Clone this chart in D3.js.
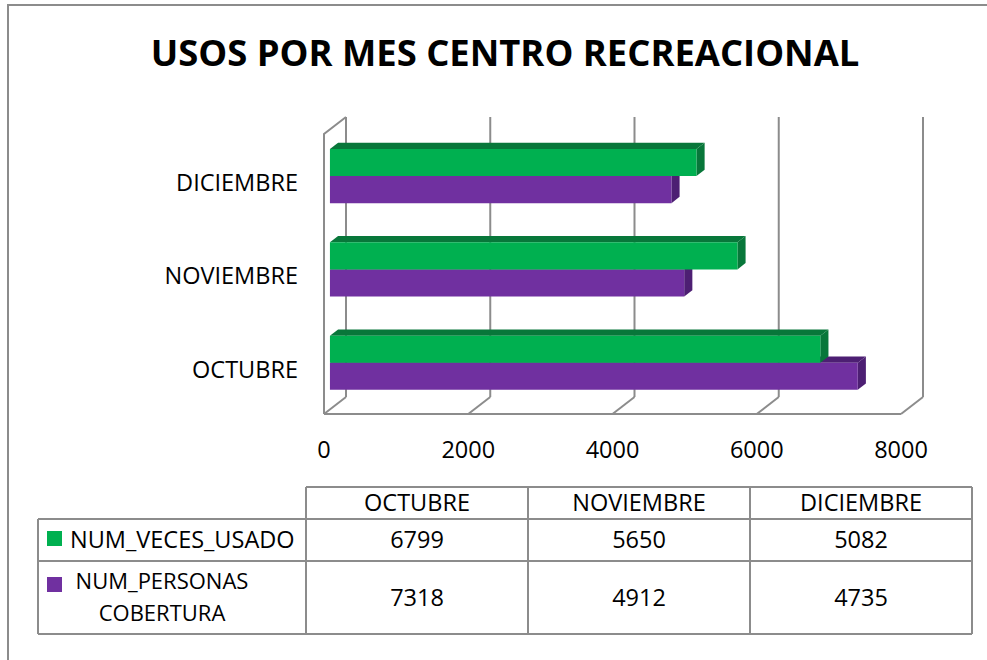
<!DOCTYPE html>
<html>
<head>
<meta charset="utf-8">
<script src="https://cdn.jsdelivr.net/npm/d3@7"></script>
<style>
  body { margin: 0; background: #fff; }
  svg { display: block; font-family: "Open Sans", sans-serif; }
</style>
</head>
<body>
<svg width="987" height="660"></svg>
<script>
// data
const months = ["OCTUBRE", "NOVIEMBRE", "DICIEMBRE"];
const vecesUsado = [6799, 5650, 5082];
const personasCobertura = [7318, 4912, 4735];
const seriesNames = ["NUM_VECES_USADO", "NUM_PERSONAS COBERTURA"];
const xTicks = [0, 2000, 4000, 6000, 8000];

const svg = d3.select("svg");
const grid = "#8c8c8c";
const fs = "23.5px";

// outer frame (right/bottom edges fall outside the picture)
svg.append("rect")
    .attr("x", 8).attr("y", 5)
    .attr("width", 1000).attr("height", 700)
    .attr("fill", "none").attr("stroke", grid).attr("stroke-width", 2);

svg.append("text")
    .attr("x", 505).attr("y", 66)
    .attr("text-anchor", "middle")
    .style("font-weight", "bold").style("font-size", "36.4px")
    .text("USOS POR MES CENTRO RECREACIONAL");

// 3d box: back wall scales, depth vector goes to the front
const xScale = d3.scaleLinear().domain([0, 8000]).range([346, 923]);
const yScale = d3.scaleBand()
    .domain(months.slice().reverse())
    .range([117, 397])
    .paddingInner(0.42).paddingOuter(0.21);
const sub = d3.scaleBand().domain(seriesNames).range([0, yScale.bandwidth()]);
const depth = { dx: -22, dy: 17 };
const P = (x, y, t) => [x + depth.dx * t, y + depth.dy * t];
const top0 = yScale.range()[0], bot0 = yScale.range()[1];

const walls = svg.append("g").attr("fill", "none").attr("stroke", grid).attr("stroke-width", 2);
// back wall gridlines
walls.selectAll(".vgrid")
    .data(xTicks)
    .enter().append("line")
    .attr("x1", d => xScale(d)).attr("x2", d => xScale(d))
    .attr("y1", top0).attr("y2", bot0);
// floor diagonals
walls.selectAll(".fgrid")
    .data(xTicks)
    .enter().append("line")
    .attr("x1", d => xScale(d)).attr("y1", bot0)
    .attr("x2", d => P(xScale(d), bot0, 1)[0]).attr("y2", d => P(xScale(d), bot0, 1)[1]);
// floor front edge
walls.append("line")
    .attr("x1", P(xScale(0), bot0, 1)[0]).attr("y1", P(xScale(0), bot0, 1)[1])
    .attr("x2", P(xScale(8000), bot0, 1)[0]).attr("y2", P(xScale(8000), bot0, 1)[1]);
// side wall
walls.append("polyline")
    .attr("points", [P(xScale(0), top0, 0), P(xScale(0), top0, 1), P(xScale(0), bot0, 1)].map(p => p.join(",")).join(" "));

// bars
const colors = {
    "NUM_VECES_USADO": { front: "#00b050", dark: "#08773a" },
    "NUM_PERSONAS COBERTURA": { front: "#7030a0", dark: "#4d1f73" }
};
const tf = 0.73, tb = 0.36;
const barData = [];
months.forEach((m, i) => {
    barData.push({ month: m, series: seriesNames[1], value: personasCobertura[i] });
    barData.push({ month: m, series: seriesNames[0], value: vecesUsado[i] });
});
const pts = arr => arr.map(p => p.join(",")).join(" ");

const bars = svg.selectAll(".bar")
    .data(barData)
    .enter().append("g").attr("class", "bar");

bars.each(function(d) {
    const g = d3.select(this);
    const y1 = yScale(d.month) + sub(d.series);
    const y2 = y1 + sub.bandwidth();
    const x0 = xScale(0), x1 = xScale(d.value);
    const c = colors[d.series];
    g.append("polygon").attr("fill", c.dark)
        .attr("points", pts([P(x0, y1, tf), P(x1, y1, tf), P(x1, y1, tb), P(x0, y1, tb)]));
    g.append("polygon").attr("fill", c.dark)
        .attr("points", pts([P(x1, y1, tf), P(x1, y1, tb), P(x1, y2, tb), P(x1, y2, tf)]));
    g.append("polygon").attr("fill", c.front)
        .attr("points", pts([P(x0, y1, tf), P(x1, y1, tf), P(x1, y2, tf), P(x0, y2, tf)]));
});

// category labels
svg.selectAll(".cat")
    .data(months)
    .enter().append("text")
    .attr("x", 298)
    .attr("y", d => yScale(d) + yScale.bandwidth() / 2 + 19)
    .attr("dy", "0.35em")
    .attr("text-anchor", "end")
    .style("font-size", fs)
    .text(d => d);

// x tick labels
svg.selectAll(".tick-label")
    .data(xTicks)
    .enter().append("text")
    .attr("x", d => P(xScale(d), bot0, 1)[0])
    .attr("y", 458)
    .attr("text-anchor", "middle")
    .style("font-size", fs)
    .text(d => d);

// data table
const colX = d3.scaleBand().domain(months).range([306, 972]);
const rowY = [487, 519, 561, 634];
const tableLeft = 38;
const tbl = svg.append("g").attr("stroke", grid).attr("stroke-width", 2);
tbl.append("line").attr("x1", colX.range()[0]).attr("x2", colX.range()[1]).attr("y1", rowY[0]).attr("y2", rowY[0]);
rowY.slice(1).forEach(y => {
    tbl.append("line").attr("x1", tableLeft).attr("x2", colX.range()[1]).attr("y1", y).attr("y2", y);
});
tbl.append("line").attr("x1", tableLeft).attr("x2", tableLeft).attr("y1", rowY[1]).attr("y2", rowY[3]);
months.concat([null]).forEach(m => {
    const x = m ? colX(m) : colX.range()[1];
    tbl.append("line").attr("x1", x).attr("x2", x).attr("y1", rowY[0]).attr("y2", rowY[3]);
});

svg.selectAll(".hdr")
    .data(months)
    .enter().append("text")
    .attr("x", d => colX(d) + colX.bandwidth() / 2)
    .attr("y", (rowY[0] + rowY[1]) / 2)
    .attr("dy", "0.35em")
    .attr("text-anchor", "middle")
    .style("font-size", fs)
    .text(d => d);

[vecesUsado, personasCobertura].forEach((vals, r) => {
    svg.selectAll(".val" + r)
        .data(vals)
        .enter().append("text")
        .attr("x", (d, i) => colX(months[i]) + colX.bandwidth() / 2)
        .attr("y", (rowY[r + 1] + rowY[r + 2]) / 2)
        .attr("dy", "0.35em")
        .attr("text-anchor", "middle")
        .style("font-size", fs)
        .text(d => d);
});

// legend keys inside table
svg.append("rect").attr("x", 47).attr("y", 531).attr("width", 15).attr("height", 15)
    .attr("fill", colors[seriesNames[0]].front);
svg.append("text").attr("x", 70).attr("y", 540).attr("dy", "0.35em")
    .style("font-size", fs).text(seriesNames[0]);

svg.append("rect").attr("x", 47).attr("y", 577).attr("width", 15).attr("height", 15)
    .attr("fill", colors[seriesNames[1]].front);
const leg2 = svg.append("text").attr("text-anchor", "middle").style("font-size", "22px");
leg2.append("tspan").attr("x", 162).attr("y", 581).attr("dy", "0.35em").text("NUM_PERSONAS");
leg2.append("tspan").attr("x", 162).attr("y", 613).attr("dy", "0.35em").text("COBERTURA");
</script>
</body>
</html>
